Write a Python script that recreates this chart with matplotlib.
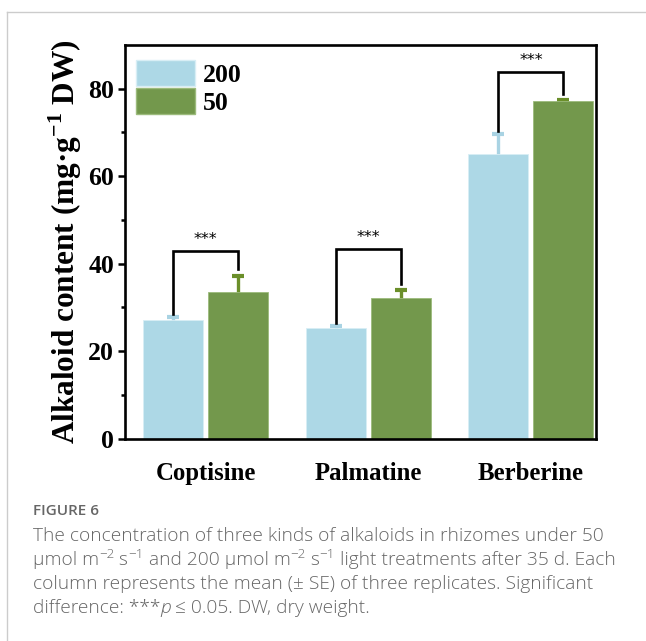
import matplotlib
matplotlib.use("Agg")
import matplotlib.pyplot as plt
import numpy as np
from matplotlib.lines import Line2D
from matplotlib.patches import Patch
from matplotlib.font_manager import FontProperties

# Alkaloid content (mg g-1 DW), mean and SE of three replicates
compounds = ["Coptisine", "Palmatine", "Berberine"]
light_levels = ["200", "50"]
mean_200 = [27.1, 25.2, 65.1]
se_200 = [0.8, 0.6, 4.6]
mean_50 = [33.6, 32.1, 77.2]
se_50 = [3.6, 1.8, 0.1]
signif = ["***", "***", "***"]
bracket_top = [42.8, 43.4, 83.9]

y_ticks = [0, 20, 40, 60, 80]

plt.rcParams["mathtext.fontset"] = "custom"
plt.rcParams["mathtext.bf"] = "Liberation Serif:bold"

serif = "Liberation Serif"
blue = "#add8e6"
green = "#73984c"
blue_err = "#a9d3e3"
green_err = "#6b8f2a"

fig = plt.figure(figsize=(6.46, 6.41), dpi=100)
ax = fig.add_axes([0.1935, 0.3159, 0.729, 0.614])

x = np.arange(len(compounds))
w = 0.37
off = 0.2

# error bars sit behind the bars so only the upper half shows
ax.errorbar(x - off, mean_200, yerr=se_200, fmt="none",
            ecolor=blue_err, elinewidth=2.4, capsize=4.5, capthick=3.0, zorder=1)
ax.errorbar(x + off, mean_50, yerr=se_50, fmt="none",
            ecolor=green_err, elinewidth=2.4, capsize=4.5, capthick=3.0, zorder=1)
ax.bar(x - off, mean_200, width=w, color=blue, edgecolor="#d8eef5", linewidth=0.6, zorder=2)
ax.bar(x + off, mean_50, width=w, color=green, edgecolor="#9cbb7c", linewidth=0.6, zorder=2)

# significance brackets
for i in range(len(compounds)):
    xl, xr = x[i] - off, x[i] + off
    yl = mean_200[i] + se_200[i] + 0.6
    yr = mean_50[i] + se_50[i] + 1.5
    top = bracket_top[i]
    ax.plot([xl, xl, xr, xr], [yl, top, top, yr], color="black", lw=1.9,
            solid_joinstyle="miter", zorder=4)
    ax.text(x[i], top + 0.9, signif[i], ha="center", va="bottom",
            fontsize=11.5, family="DejaVu Sans", color="black")

ax.set_xlim(-0.497, 2.40)
ax.set_ylim(0, 90)
ax.set_yticks(y_ticks)
ax.set_yticks(np.arange(10, 90, 20), minor=True)
ax.set_xticks(x)
ax.set_xticklabels(compounds, fontsize=17.8, fontweight="bold", family=serif)
ax.tick_params(axis="x", length=0, pad=17)
ax.tick_params(axis="y", which="major", length=5, width=1.8, direction="out", pad=3)
ax.tick_params(axis="y", which="minor", length=3, width=1.8, direction="out")
for lab in ax.get_yticklabels():
    lab.set_fontsize(18.5)
    lab.set_fontweight("bold")
    lab.set_family(serif)
for s in ax.spines.values():
    s.set_linewidth(1.9)

ax.set_ylabel(r"Alkaloid content (mg·g$^{\mathbf{-1}}$ DW)", fontsize=22.5,
              fontweight="bold", family=serif, labelpad=3)

handles = [Patch(facecolor=blue, edgecolor="#d8eef5"),
           Patch(facecolor=green, edgecolor="#9cbb7c")]
leg = ax.legend(handles, light_levels, loc="upper left", bbox_to_anchor=(0.0234, 0.962),
                frameon=False, borderpad=0, borderaxespad=0, handlelength=2.3,
                handleheight=1.2, labelspacing=0.05, handletextpad=0.3,
                prop={"family": serif, "weight": "bold", "size": 18.5})

# page frame
fig.add_artist(Line2D([0.0108, 1.0], [0.981, 0.981], color="#cccccc", lw=1.0))
fig.add_artist(Line2D([0.0108, 0.0108], [0.0, 0.981], color="#cccccc", lw=1.0))

# caption, laid out run by run so superscripts and italics stay tight
cap_color = "#666666"
cap_size = 13.8
W, H = fig.bbox.width, fig.bbox.height
renderer = fig.canvas.get_renderer()


def run_props(kind):
    if kind == "sup":
        return FontProperties(family="Open Sans", weight="light", size=cap_size * 0.7)
    if kind == "it":
        return FontProperties(family="Open Sans", weight="light", style="italic", size=cap_size)
    return FontProperties(family="Open Sans", weight="light", size=cap_size)


def advance(text, prop):
    wa, _, _ = renderer.get_text_width_height_descent("x" + text + "x", prop, ismath=False)
    wb, _, _ = renderer.get_text_width_height_descent("xx", prop, ismath=False)
    return wa - wb


def draw_runs(x0, baseline, runs):
    xp = x0
    for text, kind in runs:
        prop = run_props(kind)
        yb = baseline - (6.5 if kind == "sup" else 0)
        fig.text(xp / W, 1 - yb / H, text, fontproperties=prop, color=cap_color,
                 va="baseline", ha="left")
        xp += advance(text, prop)


fig.text(33 / W, 1 - 511 / H, "FIGURE 6", fontsize=11, family="Open Sans",
         fontweight="semibold", color=cap_color, va="center")

caption_runs = [
    [("The concentration of three kinds of alkaloids in rhizomes under 50", "n")],
    [("μmol m", "n"), ("−2", "sup"), (" s", "n"), ("−1", "sup"),
     (" and 200 μmol m", "n"), ("−2", "sup"), (" s", "n"), ("−1", "sup"),
     (" light treatments after 35 d. Each", "n")],
    [("column represents the mean (± SE) of three replicates. Significant", "n")],
    [("difference: ***", "n"), ("p", "it"), (" ≤ 0.05. DW, dry weight.", "n")],
]
baselines = [541, 565, 589, 613]
for runs, b in zip(caption_runs, baselines):
    draw_runs(33, b, runs)

fig.savefig("out.png", dpi=100)
